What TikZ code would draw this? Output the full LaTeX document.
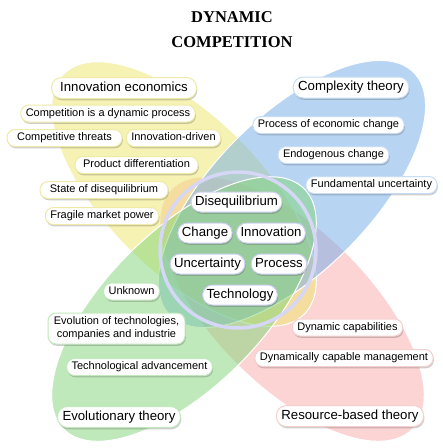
\documentclass[tikz,border=0pt]{standalone}
\usepackage{fontspec}
\setmainfont{Liberation Sans}
\newfontfamily\titlefont{Liberation Serif}
\usetikzlibrary{shadows}
\definecolor{yel}{HTML}{EDE76B}
\definecolor{blu}{HTML}{71ADE9}
\definecolor{gre}{HTML}{80D577}
\definecolor{pin}{HTML}{FBAAAA}
\definecolor{yb}{HTML}{EFEBA6}
\definecolor{bb}{HTML}{C6DDF4}
\definecolor{gb}{HTML}{C2E8BE}
\definecolor{pb}{HTML}{F6CFCF}
\definecolor{cb}{HTML}{CFCFF2}
\definecolor{ringc}{HTML}{D6D6F6}
\tikzset{
  petal/.style={draw=white, line width=1pt, fill opacity=0.5},
  boxbase/.style={draw=#1, fill=white, line width=1pt, inner xsep=5pt, inner ysep=0pt,
    drop shadow={shadow xshift=0.8pt, shadow yshift=-1.8pt, opacity=0.28, fill=black!70}},
  item/.style={boxbase=#1, rounded corners=8pt, minimum height=17pt,
    font=\fontsize{11}{13}\selectfont, text height=7.9pt, text depth=2.2pt},
  itemtwo/.style={boxbase=#1, rounded corners=8pt, minimum height=31pt, align=center,
    font=\fontsize{11}{13}\selectfont},
  head/.style={boxbase=#1, rounded corners=10pt, minimum height=21pt,
    font=\fontsize{13.2}{15}\selectfont, text height=9.5pt, text depth=2.6pt},
  core/.style={boxbase=cb, rounded corners=10pt, minimum height=20pt, inner xsep=4pt,
    font=\fontsize{13.2}{15}\selectfont, text height=9.5pt, text depth=2.6pt},
  titletext/.style={font=\titlefont\bfseries\fontsize{16.5}{20}\selectfont, anchor=base, inner sep=0pt}
}
\begin{document}
\begin{tikzpicture}[x=1pt,y=-1pt]
\useasboundingbox (0,0) rectangle (443,448);
\fill[white] (0,0) rectangle (443,448);
% petals
\filldraw[petal, fill=pin, rotate around={-45:(292,309)}] (292,309) ellipse [x radius=170pt, y radius=78pt];
\filldraw[petal, fill=yel, rotate around={-45:(184,194)}] (184,194) ellipse [x radius=170pt, y radius=78pt];
\filldraw[petal, fill=blu, rotate around={45:(292,194)}] (292,194) ellipse [x radius=172pt, y radius=78pt];
\filldraw[petal, fill=gre, rotate around={45:(184,309)}] (184,309) ellipse [x radius=170pt, y radius=78pt];
% ring
\draw[ringc, line width=3.5pt] (238,250) circle[radius=78pt];
% title
\node[titletext] (t1) at (232,22) {DYNAMIC};
\node[titletext] (t2) at (232,47) {COMPETITION};
% innovation economics
\node[head=yb, minimum width=145pt] (ie) at (124,88) {Innovation economics};
\node[item=yb] (cdp) at (108,113.5) {Competition is a dynamic process};
\node[item=yb, minimum width=115pt] (ct) at (64.5,138) {Competitive threats};
\node[item=yb] (id) at (173.5,138) {Innovation-driven};
\node[item=yb, minimum width=123pt] (pd) at (136.5,165) {Product differentiation};
\node[item=yb, minimum width=128pt] (sd) at (104,190) {State of disequilibrium};
\node[item=yb, minimum width=110pt] (fm) at (102,216) {Fragile market power};
% complexity theory
\node[head=bb] (cx) at (351,87.5) {Complexity theory};
\node[item=bb] (pe) at (328.5,125) {Process of economic change};
\node[item=bb] (ec) at (333.5,155) {Endogenous change};
\node[item=bb] (fu) at (371.5,185) {Fundamental uncertainty};
% core
\node[core] (dq) at (236.5,202) {Disequilibrium};
\node[core] (ch) at (205,233) {Change};
\node[core] (in) at (271,233) {Innovation};
\node[core] (un) at (207.5,264) {Uncertainty};
\node[core] (pr) at (279,264) {Process};
\node[core] (te) at (240,295) {Technology};
% evolutionary theory
\node[item=gb] (uk) at (131.5,291.5) {Unknown};
\node[itemtwo=gb, minimum width=137pt] (ev) at (116.5,328.5) {Evolution of technologies,\\companies and industrie};
\node[item=gb] (ta) at (139.5,367) {Technological advancement};
\node[head=gb, minimum width=122pt] (et) at (119,417) {Evolutionary theory};
% resource-based theory
\node[item=pb] (dc) at (347.5,327.5) {Dynamic capabilities};
\node[item=pb] (dm) at (344,358) {Dynamically capable management};
\node[head=pb, minimum width=146pt] (rb) at (350,416) {Resource-based theory};
\end{tikzpicture}
\end{document}
